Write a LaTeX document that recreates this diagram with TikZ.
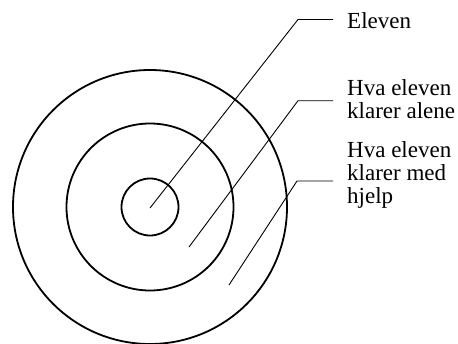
\documentclass[tikz,border=0pt]{standalone}
\usepackage{fontspec}
\setmainfont{Liberation Serif}
\begin{document}
\begin{tikzpicture}[
    x=1pt, y=-1pt,
    ring/.style={circle, draw, line width=1.8pt, inner sep=0pt},
    lead/.style={line width=0.9pt},
    lbl/.style={anchor=base west, align=left, inner xsep=14pt, inner ysep=0pt, font=\fontsize{23}{23}\selectfont}
]
    \useasboundingbox (0,0) rectangle (458,343);
    % zones
    \node[ring, minimum size=274pt] (outer) at (150,207) {};
    \node[ring, minimum size=167pt] (middle) at (150,207) {};
    \node[ring, minimum size=57pt] (inner) at (150,207) {};
    % labels (base = last line)
    \node[lbl] (self) at (333,28) {Eleven};
    \node[lbl] (alone) at (333,118) {Hva eleven\\klarer alene};
    \node[lbl] (help) at (333,203) {Hva eleven\\klarer med\\hjelp};
    % leader lines
    \coordinate (p1) at (150,208);
    \coordinate (p2) at (189,247);
    \coordinate (p3) at (229,285);
    \coordinate (b1) at (298,19.5);
    \coordinate (b2) at (298,100.7);
    \coordinate (b3) at (297,181);
    \draw[lead] (p1) -- (b1) -- (b1 -| self.west);
    \draw[lead] (p2) -- (b2) -- (b2 -| alone.west);
    \draw[lead] (p3) -- (b3) -- (b3 -| help.west);
\end{tikzpicture}
\end{document}
